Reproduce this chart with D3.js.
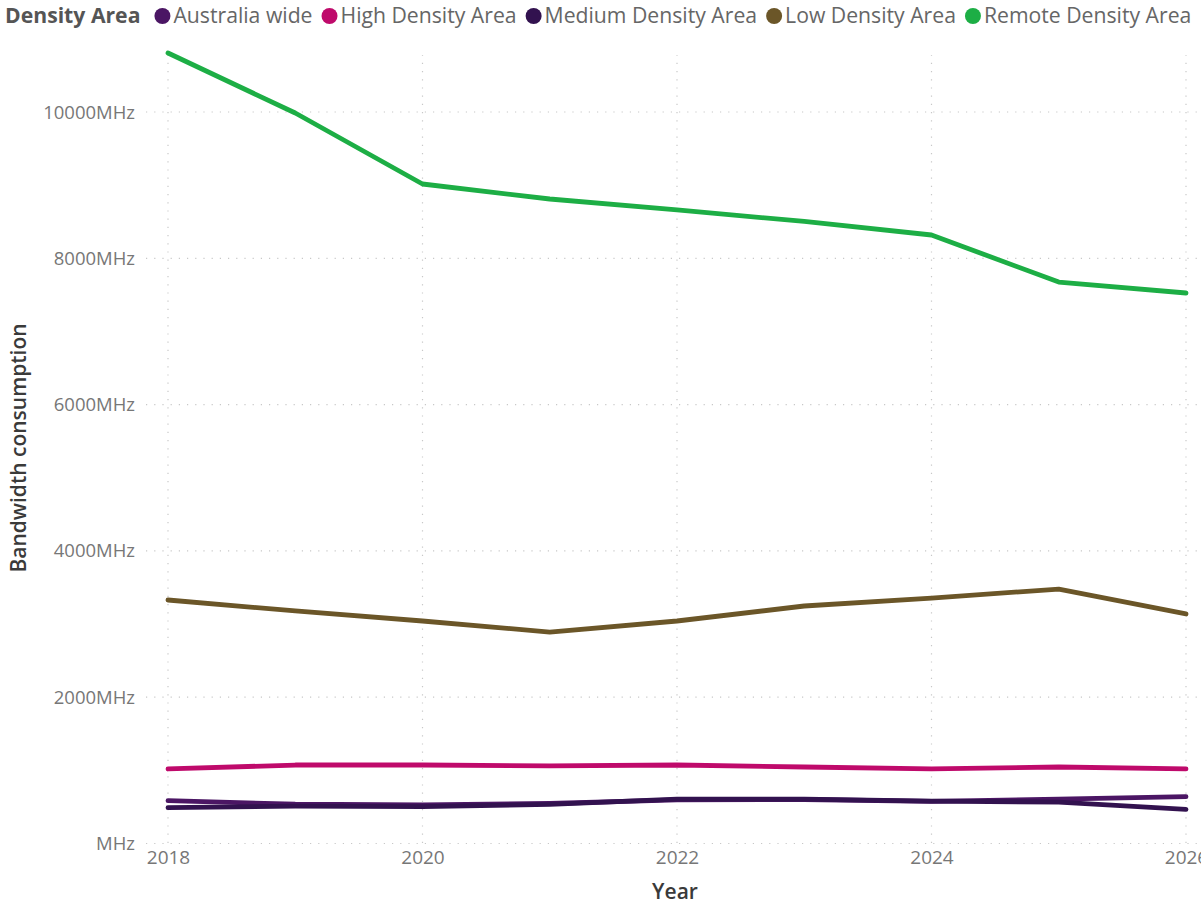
<!DOCTYPE html>
<html>
<head>
<meta charset="utf-8">
<script src="https://cdn.jsdelivr.net/npm/d3@7"></script>
<style>
  html, body { margin: 0; padding: 0; background: #fff; overflow: hidden; }
  svg { display: block; font-family: "Open Sans", "Noto Sans", sans-serif; }
</style>
</head>
<body>
<svg id="chart" width="1201" height="907"></svg>
<script>
// Bandwidth consumption by density area, 2018–2026
const years = [2018, 2019, 2020, 2021, 2022, 2023, 2024, 2025, 2026];
const seriesNames = ["Australia wide", "High Density Area", "Medium Density Area", "Low Density Area", "Remote Density Area"];
const seriesColors = ["#4B1664", "#BF0A6B", "#32124F", "#6B5628", "#1DAE45"];

const australiaWide = [578, 530, 522, 540, 590, 595, 570, 600, 633];
const highDensity   = [1012, 1066, 1066, 1053, 1066, 1039, 1012, 1039, 1012];
const mediumDensity = [483, 505, 498, 528, 600, 600, 572, 560, 461];
const lowDensity    = [3322, 3172, 3035, 2884, 3035, 3240, 3349, 3472, 3131];
const remoteDensity = [10800, 9980, 9009, 8804, 8654, 8497, 8312, 7669, 7519];

const yTicks = [0, 2000, 4000, 6000, 8000, 10000];
const xTicks = [2018, 2020, 2022, 2024, 2026];

const seriesValues = [australiaWide, highDensity, mediumDensity, lowDensity, remoteDensity];

const svg = d3.select("#chart");
const margin = { left: 168, right: 15, top: 53, bottom: 64 };
const W = 1201, H = 907;

const x = d3.scaleLinear().domain([2018, 2026]).range([margin.left, W - margin.right]);
const y = d3.scaleLinear().domain([0, 10800]).range([H - margin.bottom, margin.top]);

// gridlines
const grid = svg.append("g").attr("stroke", "#c8c8c8").attr("stroke-width", 1.2)
  .attr("stroke-dasharray", "1.2,7");
grid.selectAll("line.h").data(yTicks).join("line")
  .attr("x1", 146).attr("x2", W)
  .attr("y1", d => y(d) + 0.5).attr("y2", d => y(d) + 0.5);
grid.selectAll("line.v").data(xTicks).join("line")
  .attr("x1", d => x(d)).attr("x2", d => x(d))
  .attr("y1", y(0)).attr("y2", 55);

// y axis
const yAxis = svg.append("g").attr("transform", `translate(${x(2018) - 30},0)`)
  .call(d3.axisLeft(y).tickValues(yTicks).tickSize(0)
    .tickFormat(d => d === 0 ? "MHz" : d + "MHz"));
yAxis.select(".domain").remove();
yAxis.selectAll("text").attr("fill", "#777").attr("font-size", 18.5)
  .attr("font-family", "'Open Sans', sans-serif").attr("dx", 0).attr("dy", "0.35em");

// x axis
const xAxis = svg.append("g").attr("transform", `translate(0,${y(0)})`)
  .call(d3.axisBottom(x).tickValues(xTicks).tickSize(0).tickFormat(d3.format("d")));
xAxis.select(".domain").remove();
xAxis.selectAll("text").attr("fill", "#777").attr("font-size", 19)
  .attr("font-family", "'Open Sans', sans-serif").attr("dy", "0.95em");

// axis titles
svg.append("text").attr("x", x(2022) - 2).attr("y", 899)
  .attr("text-anchor", "middle").attr("fill", "#3a3a3a").attr("font-size", 21)
  .attr("font-weight", 600).text("Year");
svg.append("text")
  .attr("transform", `translate(26,${(y(0) + y(10800)) / 2}) rotate(-90)`)
  .attr("text-anchor", "middle").attr("fill", "#3a3a3a").attr("font-size", 21)
  .attr("font-weight", 600).text("Bandwidth consumption");

// lines
const line = d3.line().x((d, i) => x(years[i])).y(d => y(d));
svg.append("g").selectAll("path").data(seriesValues).join("path")
  .attr("d", d => line(d))
  .attr("fill", "none")
  .attr("stroke", (d, i) => seriesColors[i])
  .attr("stroke-width", 4.8)
  .attr("stroke-linejoin", "round")
  .attr("stroke-linecap", "round");

// legend
const legend = svg.append("g").attr("font-size", 21.2);
const title = legend.append("text").attr("x", 5).attr("y", 23)
  .attr("font-weight", 700).attr("fill", "#555").text("Density Area");
let cx = 5 + title.node().getComputedTextLength() + 22;
seriesNames.forEach((name, i) => {
  legend.append("circle").attr("cx", cx).attr("cy", 16).attr("r", 8)
    .attr("fill", seriesColors[i]);
  const t = legend.append("text").attr("x", cx + 11).attr("y", 23)
    .attr("fill", "#666").text(name);
  cx += 11 + t.node().getComputedTextLength() + 17;
});
</script>
</body>
</html>
